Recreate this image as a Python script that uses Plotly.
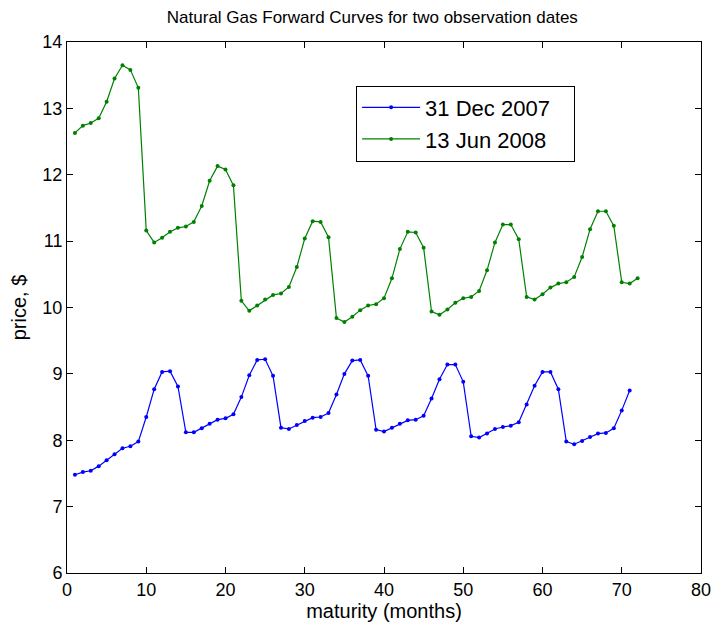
import plotly.graph_objects as go

months_dec = list(range(1, 72))
price_dec = [7.48, 7.52, 7.54, 7.61, 7.70, 7.79, 7.88, 7.91, 7.98, 8.35,
             8.77, 9.03, 9.04, 8.81, 8.12, 8.12, 8.18, 8.25, 8.31, 8.33,
             8.39, 8.65, 8.98, 9.21, 9.22, 8.97, 8.19, 8.17, 8.23, 8.29,
             8.34, 8.35, 8.41, 8.69, 9.00, 9.20, 9.21, 8.97, 8.16, 8.13,
             8.19, 8.25, 8.30, 8.31, 8.37, 8.63, 8.92, 9.14, 9.14, 8.88,
             8.06, 8.04, 8.10, 8.17, 8.20, 8.22, 8.27, 8.54, 8.82, 9.03,
             9.03, 8.77, 7.98, 7.94, 7.99, 8.05, 8.10, 8.11, 8.18, 8.45,
             8.75]

months_jun = list(range(1, 73))
price_jun = [12.63, 12.74, 12.78, 12.85, 13.10, 13.45, 13.65, 13.58, 13.31, 11.16,
             10.98, 11.05, 11.14, 11.20, 11.22, 11.29, 11.53, 11.91, 12.13, 12.08,
             11.84, 10.10, 9.95, 10.03, 10.12, 10.19, 10.21, 10.31, 10.61, 11.04,
             11.30, 11.29, 11.06, 9.84, 9.78, 9.86, 9.96, 10.03, 10.05, 10.14,
             10.44, 10.88, 11.14, 11.13, 10.90, 9.94, 9.89, 9.97, 10.07, 10.14,
             10.16, 10.25, 10.56, 10.98, 11.25, 11.25, 11.03, 10.16, 10.12, 10.20,
             10.30, 10.36, 10.38, 10.46, 10.76, 11.18, 11.45, 11.45, 11.23, 10.38,
             10.36, 10.44]

x_ticks = [0, 10, 20, 30, 40, 50, 60, 70, 80]
y_ticks = [6, 7, 8, 9, 10, 11, 12, 13, 14]

font_family = "Liberation Sans, Arial, sans-serif"
pad = "\u00a0" * 3

fig = go.Figure()
fig.add_trace(go.Scatter(x=months_dec, y=price_dec, mode="lines+markers",
                         name="31 Dec 2007" + pad,
                         line=dict(color="#0000ff", width=1.2),
                         marker=dict(color="#0000ff", size=4)))
fig.add_trace(go.Scatter(x=months_jun, y=price_jun, mode="lines+markers",
                         name="13 Jun 2008" + pad,
                         line=dict(color="#008000", width=1.2),
                         marker=dict(color="#008000", size=4)))

axis_common = dict(showline=True, linecolor="black", linewidth=1,
                   mirror="allticks", ticks="inside", ticklen=6,
                   tickcolor="black", showgrid=False, zeroline=False,
                   tickfont=dict(size=18, color="black", family=font_family))

fig.update_layout(
    width=723, height=626,
    margin=dict(l=67, r=13, t=42, b=50),
    paper_bgcolor="white", plot_bgcolor="white",
    font=dict(family=font_family, color="black"),
    title=dict(text="Natural Gas Forward Curves for two observation dates",
               x=0.515, xanchor="center", y=0.972, yanchor="middle",
               font=dict(size=17, color="black", family=font_family)),
    xaxis=dict(range=[0, 80], tickvals=x_ticks,
               title=dict(text="maturity (months)", standoff=0,
                          font=dict(size=20, family=font_family)),
               **axis_common),
    yaxis=dict(range=[6, 14], tickvals=y_ticks,
               title=dict(text="price, $", standoff=10,
                          font=dict(size=20, family=font_family)),
               **axis_common),
    legend=dict(x=0.456, y=0.918, xanchor="left", yanchor="top",
                bordercolor="black", borderwidth=1, bgcolor="white",
                font=dict(size=22, color="black", family=font_family),
                itemwidth=58, tracegroupgap=0),
    showlegend=True,
)

fig.write_html("out.html")
